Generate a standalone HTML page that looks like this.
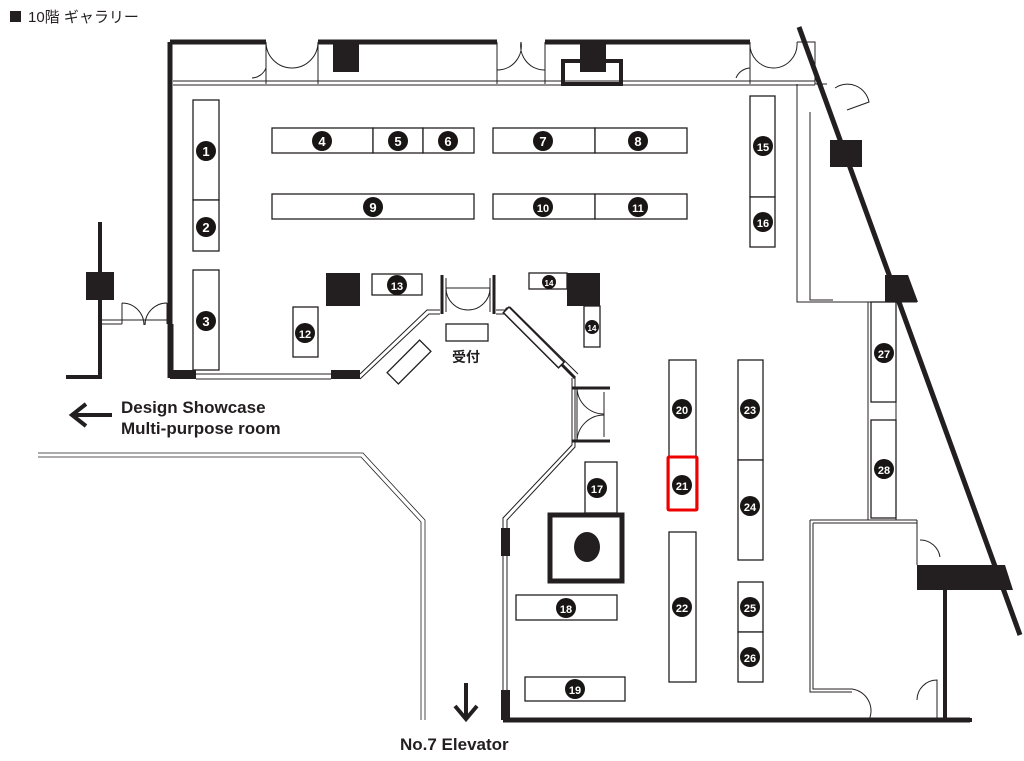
<!DOCTYPE html>
<html><head><meta charset="utf-8"><style>
html,body{margin:0;padding:0;background:#fff;}
svg{display:block;}
text{font-family:"Liberation Sans","Noto Sans CJK JP",sans-serif;}
.c{fill:#1a1515;}
.n{fill:#fff;font-weight:bold;font-size:13px;text-anchor:middle;}
.b{fill:#fff;stroke:#231f20;stroke-width:1.3;}
.w{stroke:#231f20;fill:none;}
</style></head><body>
<svg width="1024" height="761" viewBox="0 0 1024 761" xmlns="http://www.w3.org/2000/svg">
<rect x="10" y="11" width="11" height="11" fill="#231f20"/>
<text x="28" y="22" font-size="15" fill="#231f20">10階 ギャラリー</text>

<g stroke="#231f20" fill="none">
<path d="M170 42H266M318 42H497M545 42H750" stroke-width="5"/>
<path d="M170 42V378" stroke-width="5"/>
<path d="M173 81H815M173 85H815" stroke-width="1"/>
<path d="M266 42V84M318 42V84M497 42V84M545 42V84M750 42V84M797 42H815V84" stroke-width="1"/>
<path d="M266 68a16 16 0 0 1 -14 10M266 42a26 26 0 0 0 26 26M318 42a26 26 0 0 1 -26 26M497 42v28a24 24 0 0 0 24 -28M545 42v28a24 24 0 0 1 -24 -28M750 68a16 16 0 0 0 -14 10M750 42a24 24 0 0 0 24 26M797 42a24 24 0 0 1 -24 26" stroke-width="1"/>
<rect x="563" y="61" width="58" height="23" stroke-width="4"/>
</g>
<rect x="333" y="42" width="26" height="30" fill="#231f20"/>
<rect x="580" y="42" width="26" height="30" fill="#231f20"/>

<path d="M799 27L1020 635" stroke="#231f20" stroke-width="5"/>
<g stroke="#231f20" fill="none" stroke-width="1">
<path d="M815 42V84H827M797 84V112M810 112V300H833M797 112V302H885"/>
<path d="M835 88a22 22 0 0 1 34 14l-22 8"/>
<path d="M868 302V520M872 302H917M896 302V520"/>
<path d="M810 520H917M813 523H917M810 520V692H852M813 523V689H852M852 689a22 22 0 0 1 17 31M917 520V565M920 540a20 20 0 0 1 20 17"/>
<path d="M917 700a20 20 0 0 1 20 -20V720"/>
</g>
<rect x="830" y="140" width="32" height="27" fill="#231f20"/>
<polygon points="885,275 908,275 918,302 885,302" fill="#231f20"/>
<polygon points="917,565 1005,565 1013,590 917,590" fill="#231f20"/>
<path d="M945 590V720M930 720H972" stroke="#231f20" stroke-width="4"/>

<path d="M100 222V272M100 300V377H66M100 377" stroke="#231f20" stroke-width="4" fill="none"/>
<rect x="86" y="272" width="28" height="28" fill="#231f20"/>
<g stroke="#231f20" fill="none" stroke-width="1">
<path d="M100 320H170M100 324H122M122 303V324M167 303V324M122 303a22 22 0 0 1 22 22M167 303a22 22 0 0 0 -22 22M173 324V378"/>
</g>
<rect x="167" y="318" width="5" height="6" fill="#231f20"/>

<g stroke="#231f20" fill="none" stroke-width="1">
<path d="M196 374H331M196 379H331M360 374L427 310H440M360 379L429 314H440M496 310H506M496 314H506"/>
<path d="M572 378V445L503 518V720M575 378V447L507 520V720"/>
<path d="M38 453H363L425 520V720M38 457H361L421 522V720" stroke-width="0.8"/>
<path d="M572 388H610M572 441H610M577 388V441M577 388a27 27 0 0 0 27 26M577 441a27 27 0 0 1 27 -26M604 392V437"/>
<path d="M446 278V312M490 278V312M446 288H490M446 288a22 22 0 0 0 22 22M490 288a22 22 0 0 1 -22 22"/>
</g>
<rect x="170" y="370" width="26" height="9" fill="#231f20"/>
<rect x="331" y="370" width="29" height="9" fill="#231f20"/>
<path d="M442 275V314M494 275V314M572 388H610M572 441H610" stroke="#231f20" stroke-width="3"/>
<path d="M506 308L575 378" stroke="#231f20" stroke-width="3"/>
<path d="M510 307L578 374" stroke="#231f20" stroke-width="1"/>
<rect x="501" y="528" width="9" height="28" fill="#231f20"/>
<rect x="501" y="690" width="9" height="30" fill="#231f20"/>
<path d="M503 720H970" stroke="#231f20" stroke-width="5"/>

<g class="b">
<rect x="193" y="100" width="26" height="100"/><rect x="193" y="200" width="26" height="51"/>
<rect x="193" y="270" width="26" height="100"/>
<rect x="272" y="128" width="101" height="25"/><rect x="373" y="128" width="50" height="25"/><rect x="423" y="128" width="51" height="25"/>
<rect x="272" y="194" width="202" height="25"/>
<rect x="493" y="128" width="102" height="25"/><rect x="595" y="128" width="92" height="25"/>
<rect x="493" y="194" width="102" height="25"/><rect x="595" y="194" width="92" height="25"/>
<rect x="750" y="96" width="25" height="101"/><rect x="750" y="197" width="25" height="50"/>
<rect x="372" y="274" width="50" height="21"/>
<rect x="293" y="307" width="25" height="50"/>
<rect x="529" y="273" width="38" height="16"/>
<rect x="584" y="306" width="16" height="41"/>
<rect x="446" y="324" width="42" height="17"/>
<rect x="386" y="354" width="46" height="16" transform="rotate(-45 409 362)"/>
<rect x="585" y="462" width="32" height="51"/>
<rect x="516" y="595" width="101" height="25"/>
<rect x="525" y="677" width="100" height="24"/>
<rect x="669" y="360" width="27" height="97"/><rect x="669" y="457" width="27" height="53"/><rect x="669" y="532" width="27" height="150"/>
<rect x="738" y="360" width="25" height="100"/><rect x="738" y="460" width="25" height="100"/>
<rect x="738" y="582" width="25" height="50"/><rect x="738" y="632" width="25" height="50"/>
<rect x="871" y="302" width="25" height="100"/><rect x="871" y="420" width="25" height="98"/>
</g>
<rect x="326" y="273" width="34" height="33" fill="#231f20"/>
<rect x="567" y="273" width="33" height="33" fill="#231f20"/>
<rect x="509" y="307" width="78" height="8" transform="rotate(45 509 307)" fill="#fff" stroke="#231f20" stroke-width="1.5"/>
<rect x="550" y="515" width="72" height="66" fill="none" stroke="#231f20" stroke-width="5"/>
<ellipse cx="587" cy="547" rx="13" ry="15" fill="#231f20"/>
<rect x="668" y="457" width="29" height="53" fill="none" stroke="#e00" stroke-width="3" rx="1"/>

<g>
<g class="c">
<circle cx="206" cy="151" r="10"/><circle cx="206" cy="227" r="10"/><circle cx="206" cy="321" r="10"/>
<circle cx="322" cy="141" r="10"/><circle cx="398" cy="141" r="10"/><circle cx="448" cy="141" r="10"/>
<circle cx="543" cy="141" r="10"/><circle cx="638" cy="141" r="10"/>
<circle cx="373" cy="207" r="10"/><circle cx="543" cy="207" r="10"/><circle cx="638" cy="207" r="10"/>
<circle cx="763" cy="146" r="10"/><circle cx="763" cy="222" r="10"/>
<circle cx="397" cy="285" r="10"/><circle cx="305" cy="333" r="10"/>
<circle cx="549" cy="282" r="7"/><circle cx="592" cy="327" r="7"/>
<circle cx="597" cy="488" r="10"/><circle cx="566" cy="608" r="10"/><circle cx="575" cy="689" r="10"/>
<circle cx="682" cy="409" r="10"/><circle cx="682" cy="485" r="10"/><circle cx="682" cy="607" r="10"/>
<circle cx="750" cy="409" r="10"/><circle cx="750" cy="506" r="10"/><circle cx="750" cy="607" r="10"/><circle cx="750" cy="657" r="10"/>
<circle cx="884" cy="353" r="10"/><circle cx="884" cy="469" r="10"/>
</g>
<g class="n">
<text x="206" y="156">1</text><text x="206" y="232">2</text><text x="206" y="326">3</text>
<text x="322" y="146">4</text><text x="398" y="146">5</text><text x="448" y="146">6</text>
<text x="543" y="146">7</text><text x="638" y="146">8</text>
<text x="373" y="212">9</text><text x="543" y="212" font-size="11">10</text><text x="638" y="212" font-size="11">11</text>
<text x="763" y="151" font-size="11">15</text><text x="763" y="227" font-size="11">16</text>
<text x="397" y="290" font-size="11">13</text><text x="305" y="338" font-size="11">12</text>
<text x="549" y="286" font-size="8">14</text><text x="592" y="331" font-size="8">14</text>
<text x="597" y="493" font-size="11">17</text><text x="566" y="613" font-size="11">18</text><text x="575" y="694" font-size="11">19</text>
<text x="682" y="414" font-size="11">20</text><text x="682" y="490" font-size="11">21</text><text x="682" y="612" font-size="11">22</text>
<text x="750" y="414" font-size="11">23</text><text x="750" y="511" font-size="11">24</text><text x="750" y="612" font-size="11">25</text><text x="750" y="662" font-size="11">26</text>
<text x="884" y="358" font-size="11">27</text><text x="884" y="474" font-size="11">28</text>
</g>
</g>

<text x="466" y="362" font-size="14" font-weight="bold" text-anchor="middle" fill="#231f20">受付</text>

<path d="M112 415H74M86 404L72 415L86 426" stroke="#231f20" stroke-width="4" fill="none"/>
<text x="121" y="413" font-size="17" font-weight="bold" fill="#231f20">Design Showcase</text>
<text x="121" y="434" font-size="17" font-weight="bold" fill="#231f20">Multi-purpose room</text>
<path d="M466 683V718M455 706L466 719L477 706" stroke="#231f20" stroke-width="4" fill="none"/>
<text x="400" y="750" font-size="17" font-weight="bold" fill="#231f20">No.7 Elevator</text>
</svg>
</body></html>
